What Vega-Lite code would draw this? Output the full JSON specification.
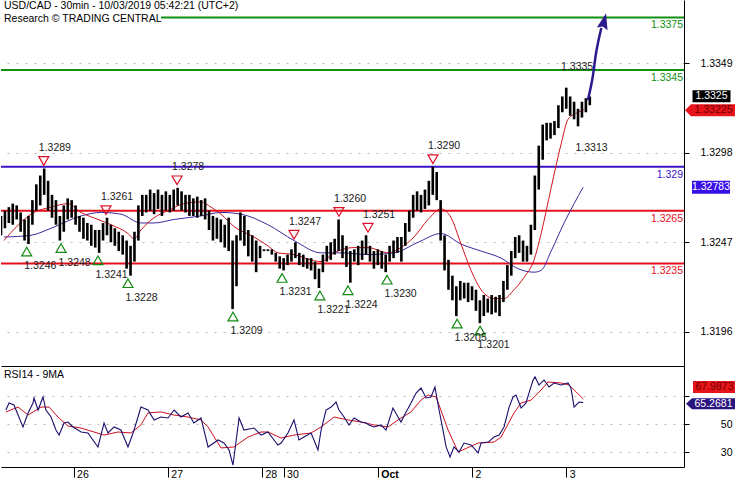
{
"$schema": "https://vega.github.io/schema/vega-lite/v6.json",
"padding": 0,
"spacing": 0,
"background": "white",
"config": {"view": {"stroke": null}, "font": "Liberation Sans", "text": {"font": "Liberation Sans", "fontSize": 10.5}, "axis": {"labelFont": "Liberation Sans"}},
"datasets": {
"levels": [
{"level": 1.3375, "role": "resistance", "from": 81.5},
{"level": 1.3345, "role": "resistance", "from": 0},
{"level": 1.329, "role": "pivot", "from": 0},
{"level": 1.3265, "role": "support", "from": 0},
{"level": 1.3235, "role": "support", "from": 0}
],
"bars": [
{"t":0,"h":1.3262,"l":1.3251},{"t":2,"h":1.3265,"l":1.3255},{"t":4,"h":1.3267,"l":1.3258},{"t":6,"h":1.3269,"l":1.3257},{"t":8,"h":1.3268,"l":1.3260},
{"t":10,"h":1.3264,"l":1.3253},{"t":12,"h":1.3260,"l":1.3248},{"t":14,"h":1.3262,"l":1.3246},{"t":16,"h":1.3271,"l":1.3257},{"t":18,"h":1.3280,"l":1.3265},
{"t":20,"h":1.3285,"l":1.3268},{"t":22,"h":1.3289,"l":1.3274},{"t":24,"h":1.3282,"l":1.3265},{"t":26,"h":1.3274,"l":1.3261},{"t":28,"h":1.3271,"l":1.3257},
{"t":30,"h":1.3262,"l":1.3248},{"t":32,"h":1.3268,"l":1.3253},{"t":34,"h":1.3272,"l":1.3260},{"t":36,"h":1.3271,"l":1.3261},{"t":38,"h":1.3268,"l":1.3257},
{"t":40,"h":1.3262,"l":1.3253},{"t":42,"h":1.3261,"l":1.3249},{"t":44,"h":1.3258,"l":1.3248},{"t":46,"h":1.3257,"l":1.3245},{"t":48,"h":1.3254,"l":1.3244},
{"t":50,"h":1.3254,"l":1.3241},{"t":52,"h":1.3258,"l":1.3248},{"t":54,"h":1.3261,"l":1.3251},{"t":56,"h":1.3257,"l":1.3247},{"t":58,"h":1.3255,"l":1.3245},
{"t":60,"h":1.3253,"l":1.3242},{"t":62,"h":1.3251,"l":1.3240},{"t":64,"h":1.3248,"l":1.3232},{"t":66,"h":1.3245,"l":1.3228},{"t":68,"h":1.3253,"l":1.3236},
{"t":70,"h":1.3268,"l":1.3248},{"t":72,"h":1.3274,"l":1.3262},{"t":74,"h":1.3274,"l":1.3264},{"t":76,"h":1.3277,"l":1.3265},{"t":78,"h":1.3275,"l":1.3263},
{"t":80,"h":1.3277,"l":1.3266},{"t":82,"h":1.3274,"l":1.3262},{"t":84,"h":1.3276,"l":1.3265},{"t":86,"h":1.3274,"l":1.3264},{"t":88,"h":1.3277,"l":1.3265},
{"t":90,"h":1.3278,"l":1.3268},{"t":92,"h":1.3276,"l":1.3265},{"t":94,"h":1.3274,"l":1.3264},{"t":96,"h":1.3274,"l":1.3262},{"t":98,"h":1.3272,"l":1.3262},
{"t":100,"h":1.3273,"l":1.3261},{"t":102,"h":1.3271,"l":1.3262},{"t":104,"h":1.3272,"l":1.3260},{"t":106,"h":1.3265,"l":1.3254},{"t":108,"h":1.3262,"l":1.3248},
{"t":110,"h":1.3261,"l":1.3249},{"t":112,"h":1.3260,"l":1.3247},{"t":114,"h":1.3257,"l":1.3244},{"t":116,"h":1.3261,"l":1.3242},{"t":118,"h":1.3248,"l":1.3209},
{"t":120,"h":1.3251,"l":1.3222},{"t":122,"h":1.3264,"l":1.3248},{"t":124,"h":1.3262,"l":1.3245},{"t":126,"h":1.3254,"l":1.3239},{"t":128,"h":1.3251,"l":1.3236},
{"t":130,"h":1.3248,"l":1.3230},{"t":132,"h":1.3245,"l":1.3238},{"t":134,"h":1.3243,"l":1.3242},{"t":136,"h":1.3243,"l":1.3242},{"t":138,"h":1.3243,"l":1.3240},
{"t":140,"h":1.3241,"l":1.3236},{"t":142,"h":1.3239,"l":1.3232},{"t":144,"h":1.3238,"l":1.3231},{"t":146,"h":1.3240,"l":1.3234},{"t":148,"h":1.3243,"l":1.3236},
{"t":150,"h":1.3247,"l":1.3238},{"t":152,"h":1.3241,"l":1.3234},{"t":154,"h":1.3240,"l":1.3233},{"t":156,"h":1.3238,"l":1.3232},{"t":158,"h":1.3238,"l":1.3231},
{"t":160,"h":1.3236,"l":1.3226},{"t":162,"h":1.3232,"l":1.3221},{"t":164,"h":1.3240,"l":1.3230},{"t":166,"h":1.3245,"l":1.3236},{"t":168,"h":1.3247,"l":1.3237},
{"t":170,"h":1.3249,"l":1.3240},{"t":172,"h":1.3260,"l":1.3242},{"t":174,"h":1.3251,"l":1.3238},{"t":176,"h":1.3245,"l":1.3233},{"t":178,"h":1.3242,"l":1.3224},
{"t":180,"h":1.3243,"l":1.3236},{"t":182,"h":1.3245,"l":1.3234},{"t":184,"h":1.3248,"l":1.3237},{"t":186,"h":1.3251,"l":1.3240},{"t":188,"h":1.3245,"l":1.3236},
{"t":190,"h":1.3242,"l":1.3232},{"t":192,"h":1.3243,"l":1.3234},{"t":194,"h":1.3242,"l":1.3232},{"t":196,"h":1.3240,"l":1.3230},{"t":198,"h":1.3245,"l":1.3236},
{"t":200,"h":1.3248,"l":1.3238},{"t":202,"h":1.3250,"l":1.3241},{"t":204,"h":1.3250,"l":1.3236},{"t":206,"h":1.3258,"l":1.3245},{"t":208,"h":1.3265,"l":1.3253},
{"t":210,"h":1.3274,"l":1.3261},{"t":212,"h":1.3276,"l":1.3265},{"t":214,"h":1.3274,"l":1.3264},{"t":216,"h":1.3277,"l":1.3266},{"t":218,"h":1.3282,"l":1.3268},
{"t":220,"h":1.3290,"l":1.3274},{"t":222,"h":1.3287,"l":1.3271},{"t":224,"h":1.3271,"l":1.3248},{"t":226,"h":1.3251,"l":1.3231},{"t":228,"h":1.3237,"l":1.3220},
{"t":230,"h":1.3228,"l":1.3214},{"t":232,"h":1.3222,"l":1.3205},{"t":234,"h":1.3225,"l":1.3214},{"t":236,"h":1.3224,"l":1.3215},{"t":238,"h":1.3224,"l":1.3213},
{"t":240,"h":1.3222,"l":1.3214},{"t":242,"h":1.3220,"l":1.3208},{"t":244,"h":1.3214,"l":1.3201},{"t":246,"h":1.3217,"l":1.3205},{"t":248,"h":1.3215,"l":1.3207},
{"t":250,"h":1.3217,"l":1.3206},{"t":252,"h":1.3216,"l":1.3207},{"t":254,"h":1.3217,"l":1.3205},{"t":256,"h":1.3225,"l":1.3213},{"t":258,"h":1.3234,"l":1.3220},
{"t":260,"h":1.3242,"l":1.3228},{"t":262,"h":1.3250,"l":1.3238},{"t":264,"h":1.3251,"l":1.3241},{"t":266,"h":1.3248,"l":1.3236},{"t":268,"h":1.3245,"l":1.3236},
{"t":270,"h":1.3257,"l":1.3240},{"t":272,"h":1.3285,"l":1.3254},{"t":274,"h":1.3302,"l":1.3277},{"t":276,"h":1.3314,"l":1.3294},{"t":278,"h":1.3315,"l":1.3305},
{"t":280,"h":1.3315,"l":1.3306},{"t":282,"h":1.3316,"l":1.3308},{"t":284,"h":1.3325,"l":1.3312},{"t":286,"h":1.3330,"l":1.3321},{"t":288,"h":1.3335,"l":1.3323},
{"t":290,"h":1.3330,"l":1.3319},{"t":292,"h":1.3327,"l":1.3317},{"t":294,"h":1.3323,"l":1.3313},{"t":296,"h":1.3327,"l":1.3318},{"t":298,"h":1.3329,"l":1.3321},
{"t":300,"h":1.3330,"l":1.3325}
],
"maFast": [
{"t":1.5,"p":1.3248},{"t":16.8,"p":1.3264},{"t":25.5,"p":1.3267},{"t":34.1,"p":1.3269},{"t":40.8,"p":1.3264},{"t":49.4,"p":1.3260},
{"t":56,"p":1.3257},{"t":64.7,"p":1.3252},{"t":67.8,"p":1.3249},{"t":71.3,"p":1.3254},{"t":78,"p":1.3261},{"t":85.1,"p":1.3265},
{"t":93.2,"p":1.3269},{"t":101.9,"p":1.3270},{"t":107,"p":1.3267},{"t":112.1,"p":1.3263},{"t":118.7,"p":1.3256},{"t":128.9,"p":1.3250},
{"t":136,"p":1.3245},{"t":141.1,"p":1.3241},{"t":149.3,"p":1.3240},{"t":158,"p":1.3237},{"t":163.1,"p":1.3236},{"t":169.7,"p":1.3241},
{"t":179.9,"p":1.3244},{"t":187,"p":1.3244},{"t":197.2,"p":1.3241},{"t":203.8,"p":1.3244},{"t":210.4,"p":1.3250},{"t":217.6,"p":1.3260},
{"t":224.2,"p":1.3266},{"t":229.3,"p":1.3261},{"t":234.4,"p":1.3246},{"t":239.5,"p":1.3231},{"t":244.6,"p":1.3220},{"t":251.2,"p":1.3215},
{"t":256.3,"p":1.3215},{"t":261.4,"p":1.3220},{"t":266.5,"p":1.3227},{"t":271.6,"p":1.3237},{"t":275.2,"p":1.3252},{"t":280.3,"p":1.3278},
{"t":285.4,"p":1.3303},{"t":288.9,"p":1.3317},{"t":294,"p":1.3321},{"t":297.1,"p":1.33225}
],
"maSlow": [
{"t":1.5,"p":1.3250},{"t":15.3,"p":1.3251},{"t":25.5,"p":1.3255},{"t":40.8,"p":1.3262},{"t":51,"p":1.3264},{"t":61.1,"p":1.3263},
{"t":71.3,"p":1.3258},{"t":78,"p":1.3258},{"t":88.2,"p":1.3260},{"t":101.9,"p":1.3262},{"t":112.1,"p":1.3264},{"t":122.3,"p":1.3263},
{"t":136,"p":1.3257},{"t":149.3,"p":1.3248},{"t":163.1,"p":1.3241},{"t":173.2,"p":1.3241},{"t":187,"p":1.3240},{"t":200.3,"p":1.3241},
{"t":212.5,"p":1.3247},{"t":224.2,"p":1.3252},{"t":234.4,"p":1.3246},{"t":244.6,"p":1.3242},{"t":254.8,"p":1.3238},{"t":263.4,"p":1.3232},
{"t":271.6,"p":1.3230},{"t":275.2,"p":1.3231},{"t":280.3,"p":1.3242},{"t":286.9,"p":1.3258},{"t":292,"p":1.3269},{"t":296.6,"p":1.32783}
],
"pivots": [
{"t":21.8,"p":1.3289,"type":"high","shown":true},{"t":53.5,"p":1.3261,"type":"high","shown":true},{"t":89.7,"p":1.3278,"type":"high","shown":true},
{"t":149.3,"p":1.3247,"type":"high","shown":true},{"t":172.2,"p":1.3260,"type":"high","shown":true},{"t":187.0,"p":1.3251,"type":"high","shown":true},
{"t":220.1,"p":1.3290,"type":"high","shown":true},{"t":287.9,"p":1.3335,"type":"high","shown":false},
{"t":13.1,"p":1.3246,"type":"low","shown":true},{"t":30.6,"p":1.3248,"type":"low","shown":true},{"t":49.4,"p":1.3241,"type":"low","shown":true},
{"t":64.7,"p":1.3228,"type":"low","shown":true},{"t":118.2,"p":1.3209,"type":"low","shown":true},{"t":143.2,"p":1.3231,"type":"low","shown":true},
{"t":162.5,"p":1.3221,"type":"low","shown":true},{"t":176.8,"p":1.3224,"type":"low","shown":true},{"t":196.7,"p":1.3230,"type":"low","shown":true},
{"t":232.4,"p":1.3205,"type":"low","shown":true},{"t":244.1,"p":1.3201,"type":"low","shown":true},{"t":294.0,"p":1.3313,"type":"low","shown":false}
],
"arrow": [
{"t":299.0,"p":1.33279},{"t":301.5,"p":1.33412},{"t":303.2,"p":1.33547},{"t":305.9,"p":1.33690}
],
"arrowHead": [{"t":307.3,"p":1.33729}],
"priceTags": [
{"kind":"close","value":1.3325,"label":"1.3325"},
{"kind":"fast","value":1.33225,"label":"1.33225"},
{"kind":"slow","value":1.32783,"label":"1.32783"}
],
"rsi": [
{"t":2.5,"v":60.0},{"t":4.1,"v":65.0},{"t":6.6,"v":63.6},{"t":8.7,"v":56.4},{"t":11.2,"v":47.9},{"t":13.8,"v":57.9},{"t":16.3,"v":65.0},
{"t":16.8,"v":68.6},{"t":18.9,"v":60.0},{"t":21.4,"v":69.3},{"t":22.9,"v":60.0},{"t":25.5,"v":55.0},{"t":28,"v":45.7},{"t":29.6,"v":42.1},
{"t":32.1,"v":50.7},{"t":34.1,"v":51.4},{"t":36.7,"v":47.9},{"t":40.8,"v":44.3},{"t":44.3,"v":43.6},{"t":49.4,"v":33.6},{"t":52.5,"v":50.7},
{"t":54.5,"v":43.6},{"t":57.6,"v":47.9},{"t":61.1,"v":45.7},{"t":64.7,"v":33.6},{"t":67.3,"v":43.6},{"t":69.8,"v":55.0},{"t":71.3,"v":62.1},
{"t":74.9,"v":60.0},{"t":78,"v":52.9},{"t":81.5,"v":55.0},{"t":85.1,"v":54.3},{"t":88.2,"v":60.0},{"t":91.7,"v":55.0},{"t":95.3,"v":57.9},
{"t":98.3,"v":50.7},{"t":101.9,"v":54.3},{"t":105.5,"v":33.6},{"t":110.6,"v":38.6},{"t":113.6,"v":36.4},{"t":116.2,"v":31.4},{"t":118.2,"v":20.7},
{"t":121.3,"v":54.3},{"t":123.8,"v":45.7},{"t":128.9,"v":47.1},{"t":132.5,"v":42.1},{"t":136,"v":44.3},{"t":139.1,"v":38.6},{"t":141.1,"v":35.0},
{"t":142.7,"v":36.4},{"t":146.2,"v":43.6},{"t":149.3,"v":52.9},{"t":151.8,"v":38.6},{"t":154.4,"v":40.7},{"t":158,"v":43.6},{"t":161.5,"v":31.4},
{"t":163.1,"v":45.7},{"t":165.6,"v":60.0},{"t":168.2,"v":62.1},{"t":170.7,"v":65.7},{"t":172.2,"v":60.0},{"t":174.8,"v":55.0},{"t":177.3,"v":49.3},
{"t":179.9,"v":54.3},{"t":183.4,"v":51.4},{"t":186,"v":50.7},{"t":187.5,"v":49.3},{"t":190.1,"v":47.9},{"t":193.6,"v":49.3},{"t":196.2,"v":45.7},
{"t":199.7,"v":61.4},{"t":202.3,"v":55.0},{"t":203.8,"v":51.4},{"t":206.4,"v":58.6},{"t":208.9,"v":65.0},{"t":211.5,"v":72.1},{"t":214,"v":75.7},
{"t":216.6,"v":68.6},{"t":219.1,"v":69.3},{"t":221.1,"v":76.4},{"t":223.2,"v":60.0},{"t":225.2,"v":45.7},{"t":226.8,"v":33.6},{"t":228.8,"v":26.4},
{"t":230.8,"v":33.6},{"t":233.4,"v":30.0},{"t":235.9,"v":36.4},{"t":239.5,"v":35.0},{"t":243.1,"v":29.3},{"t":244.6,"v":36.4},{"t":248.2,"v":37.1},
{"t":251.2,"v":40.7},{"t":253.8,"v":42.1},{"t":256.3,"v":47.9},{"t":258.9,"v":62.1},{"t":260.9,"v":69.3},{"t":262.4,"v":70.7},{"t":265,"v":61.4},
{"t":267.5,"v":65.0},{"t":269,"v":72.1},{"t":271.1,"v":81.4},{"t":272.1,"v":83.6},{"t":274.1,"v":77.9},{"t":276.7,"v":81.4},{"t":279.2,"v":76.4},
{"t":281.8,"v":79.3},{"t":285.4,"v":77.9},{"t":288.9,"v":79.3},{"t":290.4,"v":75.7},{"t":292,"v":62.1},{"t":294.5,"v":65.7},{"t":296.6,"v":65.3}
],
"rsiMa": [
{"t":2.5,"v":58.6},{"t":8.7,"v":62.1},{"t":13.8,"v":56.4},{"t":20.4,"v":62.1},{"t":24.5,"v":62.1},{"t":29,"v":55.0},{"t":34.1,"v":48.6},
{"t":40.8,"v":47.1},{"t":47.4,"v":44.3},{"t":52.5,"v":42.1},{"t":59.6,"v":44.3},{"t":66.2,"v":43.6},{"t":71.3,"v":49.3},{"t":74.9,"v":57.9},
{"t":81.5,"v":58.6},{"t":88.2,"v":56.4},{"t":95.3,"v":55.0},{"t":101.9,"v":52.9},{"t":105.5,"v":47.9},{"t":112.1,"v":32.9},{"t":118.7,"v":33.6},
{"t":125.9,"v":40.7},{"t":132.5,"v":44.3},{"t":136,"v":44.3},{"t":142.7,"v":40.0},{"t":149.3,"v":42.1},{"t":158,"v":43.6},{"t":163.1,"v":47.9},
{"t":169.7,"v":55.0},{"t":176.8,"v":52.9},{"t":183.4,"v":51.4},{"t":190.1,"v":49.3},{"t":197.2,"v":47.9},{"t":203.8,"v":54.3},{"t":208.9,"v":58.6},
{"t":214,"v":67.1},{"t":217.6,"v":70.7},{"t":221.7,"v":69.3},{"t":227.8,"v":45.7},{"t":232.9,"v":30.0},{"t":243.1,"v":36.4},{"t":251.2,"v":37.1},
{"t":254.8,"v":40.7},{"t":261.4,"v":57.9},{"t":265,"v":65.0},{"t":270.1,"v":67.1},{"t":275.2,"v":74.3},{"t":278.7,"v":80.0},{"t":285.4,"v":79.3},
{"t":289.4,"v":77.9},{"t":293,"v":72.9},{"t":296.6,"v":67.99}
],
"rsiTags": [
{"kind":"ma","value":67.9873,"label":"67.9873"},
{"kind":"rsi","value":65.2681,"label":"65.2681"}
],
"titles": [{"txt":"USD/CAD - 30min - 10/03/2019 05:42:21 (UTC+2)\nResearch © TRADING CENTRAL"}],
"rsiTitle": [{"txt":"RSI14 - 9MA"}]
},
"vconcat": [
{
"width": 683, "height": 366,
"layer": [
{"data":{"name":"levels"},"mark":{"type":"rule","strokeWidth":2},
 "encoding":{
  "x":{"field":"from","type":"quantitative","scale":{"domain":[0,348],"nice":false,"zero":false},"title":null,"axis":{"labels":false,"ticks":false,"grid":false,"domain":true,"domainColor":"#000","domainWidth":1}},
  "x2":{"value":"width"},
  "y":{"field":"level","type":"quantitative","scale":{"domain":[1.31766,1.33849],"nice":false,"zero":false},"title":null,
   "axis":{"orient":"right","values":[1.3196,1.3247,1.3298,1.3349],"format":".4f","tickSize":5,"tickColor":"#000","labelAlign":"right","labelPadding":43,"labelColor":"#000","labelFontSize":10.5,"domainColor":"#000","grid":true,"gridColor":"#b8b8b8","gridDash":[2,7]}},
  "color":{"field":"role","type":"nominal","scale":{"domain":["resistance","pivot","support"],"range":["#109010","#3c14c8","#e4101c"]},"legend":null}
 }},
{"data":{"name":"maSlow"},"mark":{"type":"line","color":"#3a2aa0","strokeWidth":1,"interpolate":"monotone"},
 "encoding":{"x":{"field":"t","type":"quantitative","scale":{"domain":[0,348],"nice":false,"zero":false},"title":null},
  "y":{"field":"p","type":"quantitative","scale":{"domain":[1.31766,1.33849],"nice":false,"zero":false},"title":null}}},
{"data":{"name":"maFast"},"mark":{"type":"line","color":"#d0141e","strokeWidth":1,"interpolate":"monotone"},
 "encoding":{"x":{"field":"t","type":"quantitative","scale":{"domain":[0,348],"nice":false,"zero":false},"title":null},
  "y":{"field":"p","type":"quantitative","scale":{"domain":[1.31766,1.33849],"nice":false,"zero":false},"title":null}}},
{"data":{"name":"bars"},"mark":{"type":"rule","color":"#000","strokeWidth":2.6,"clip":true},
 "encoding":{"x":{"field":"t","type":"quantitative","scale":{"domain":[0,348],"nice":false,"zero":false},"title":null},
  "y":{"field":"h","type":"quantitative","scale":{"domain":[1.31766,1.33849],"nice":false,"zero":false},"title":null},
  "y2":{"field":"l"}}},
{"data":{"name":"pivots"},"transform":[{"filter":"datum.type == 'high' && datum.shown"}],
 "mark":{"type":"point","shape":"triangle-down","size":100,"filled":false,"stroke":"#e0102a","strokeWidth":1.2,"opacity":1,"yOffset":-7.5},
 "encoding":{"x":{"field":"t","type":"quantitative","scale":{"domain":[0,348],"nice":false,"zero":false},"title":null},
  "y":{"field":"p","type":"quantitative","scale":{"domain":[1.31766,1.33849],"nice":false,"zero":false},"title":null}}},
{"data":{"name":"pivots"},"transform":[{"filter":"datum.type == 'low' && datum.shown"}],
 "mark":{"type":"point","shape":"triangle-up","size":100,"filled":false,"stroke":"#138a13","strokeWidth":1.2,"opacity":1,"yOffset":7.5},
 "encoding":{"x":{"field":"t","type":"quantitative","scale":{"domain":[0,348],"nice":false,"zero":false},"title":null},
  "y":{"field":"p","type":"quantitative","scale":{"domain":[1.31766,1.33849],"nice":false,"zero":false},"title":null}}},
{"data":{"name":"pivots"},"transform":[{"filter":"datum.type == 'high'"}],
 "mark":{"type":"text","align":"left","baseline":"middle","dx":-5,"dy":-20.5,"fontSize":10.5,"color":"#1a1a1a"},
 "encoding":{"x":{"field":"t","type":"quantitative","scale":{"domain":[0,348],"nice":false,"zero":false},"title":null},
  "y":{"field":"p","type":"quantitative","scale":{"domain":[1.31766,1.33849],"nice":false,"zero":false},"title":null},
  "text":{"field":"p","type":"quantitative","format":".4f"}}},
{"data":{"name":"pivots"},"transform":[{"filter":"datum.type == 'low'"}],
 "mark":{"type":"text","align":"left","baseline":"middle","dx":-2.5,"dy":22,"fontSize":10.5,"color":"#1a1a1a"},
 "encoding":{"x":{"field":"t","type":"quantitative","scale":{"domain":[0,348],"nice":false,"zero":false},"title":null},
  "y":{"field":"p","type":"quantitative","scale":{"domain":[1.31766,1.33849],"nice":false,"zero":false},"title":null},
  "text":{"field":"p","type":"quantitative","format":".4f"}}},
{"data":{"name":"arrow"},"mark":{"type":"line","color":"#2b1a8f","strokeWidth":2.5,"interpolate":"monotone"},
 "encoding":{"x":{"field":"t","type":"quantitative","scale":{"domain":[0,348],"nice":false,"zero":false},"title":null},
  "y":{"field":"p","type":"quantitative","scale":{"domain":[1.31766,1.33849],"nice":false,"zero":false},"title":null}}},
{"data":{"name":"arrowHead"},"mark":{"type":"point","shape":"M0,-1L0.69,1L0,0.7L-0.69,1Z","size":256,"filled":true,"color":"#2b1a8f","opacity":1,"angle":14},
 "encoding":{"x":{"field":"t","type":"quantitative","scale":{"domain":[0,348],"nice":false,"zero":false},"title":null},
  "y":{"field":"p","type":"quantitative","scale":{"domain":[1.31766,1.33849],"nice":false,"zero":false},"title":null}}},
{"data":{"name":"levels"},"mark":{"type":"text","align":"right","baseline":"middle","dx":-1,"dy":8,"fontSize":10.5},
 "encoding":{"x":{"value":"width"},
  "y":{"field":"level","type":"quantitative","scale":{"domain":[1.31766,1.33849],"nice":false,"zero":false},"title":null},
  "text":{"field":"level","type":"quantitative","format":".5~g"},
  "color":{"field":"role","type":"nominal","scale":{"domain":["resistance","pivot","support"],"range":["#109010","#3c14c8","#e4101c"]},"legend":null}}},
{"data":{"name":"priceTags"},"transform":[{"filter":"datum.kind == 'close'"}],
 "mark":{"type":"point","shape":"M-1,-0.316L1,-0.316L1,0.316L-1,0.316Z","size":1444,"filled":true,"color":"#000","opacity":1,"xOffset":27.5,"yOffset":-9},
 "encoding":{"x":{"value":"width"},"y":{"field":"value","type":"quantitative","scale":{"domain":[1.31766,1.33849],"nice":false,"zero":false},"title":null}}},
{"data":{"name":"priceTags"},"transform":[{"filter":"datum.kind == 'close'"}],
 "mark":{"type":"text","align":"center","baseline":"middle","dx":27.5,"dy":-9,"fontSize":10.5,"color":"#fff"},
 "encoding":{"x":{"value":"width"},"y":{"field":"value","type":"quantitative","scale":{"domain":[1.31766,1.33849],"nice":false,"zero":false},"title":null},"text":{"field":"label"}}},
{"data":{"name":"priceTags"},"transform":[{"filter":"datum.kind == 'fast'"}],
 "mark":{"type":"point","shape":"M-1,0L-0.765,-0.235L1,-0.235L1,0.235L-0.765,0.235Z","size":2601,"filled":true,"color":"#e8141c","opacity":1,"xOffset":26.5,"yOffset":0.5},
 "encoding":{"x":{"value":"width"},"y":{"field":"value","type":"quantitative","scale":{"domain":[1.31766,1.33849],"nice":false,"zero":false},"title":null}}},
{"data":{"name":"priceTags"},"transform":[{"filter":"datum.kind == 'fast'"}],
 "mark":{"type":"text","align":"center","baseline":"middle","dx":29.5,"dy":0.5,"fontSize":10.5,"color":"#700000"},
 "encoding":{"x":{"value":"width"},"y":{"field":"value","type":"quantitative","scale":{"domain":[1.31766,1.33849],"nice":false,"zero":false},"title":null},"text":{"field":"label"}}},
{"data":{"name":"priceTags"},"transform":[{"filter":"datum.kind == 'slow'"}],
 "mark":{"type":"point","shape":"M-1,-0.342L1,-0.342L1,0.342L-1,0.342Z","size":1444,"filled":true,"color":"#3a10e8","opacity":1,"xOffset":27},
 "encoding":{"x":{"value":"width"},"y":{"field":"value","type":"quantitative","scale":{"domain":[1.31766,1.33849],"nice":false,"zero":false},"title":null}}},
{"data":{"name":"priceTags"},"transform":[{"filter":"datum.kind == 'slow'"}],
 "mark":{"type":"text","align":"center","baseline":"middle","dx":27,"fontSize":10.5,"color":"#fff"},
 "encoding":{"x":{"value":"width"},"y":{"field":"value","type":"quantitative","scale":{"domain":[1.31766,1.33849],"nice":false,"zero":false},"title":null},"text":{"field":"label"}}},
{"data":{"name":"titles"},"mark":{"type":"text","align":"left","baseline":"top","lineBreak":"\n","lineHeight":13.3,"dx":3,"dy":1,"fontSize":10.5,"color":"#000"},
 "encoding":{"x":{"datum":0,"type":"quantitative","scale":{"domain":[0,348],"nice":false,"zero":false},"title":null},
  "y":{"datum":1.33849,"type":"quantitative","scale":{"domain":[1.31766,1.33849],"nice":false,"zero":false},"title":null},
  "text":{"field":"txt"}}}
]
},
{
"width": 683, "height": 101,
"layer": [
{"data":{"name":"rsiMa"},"mark":{"type":"line","color":"#cc1020","strokeWidth":1},
 "encoding":{
  "x":{"field":"t","type":"quantitative","scale":{"domain":[0,348],"nice":false,"zero":false},"title":null,
   "axis":{"values":[37,85,133,144,192,240,288],
    "labelExpr":"datum.value == 37 ? '26' : datum.value == 85 ? '27' : datum.value == 133 ? '28' : datum.value == 144 ? '30' : datum.value == 192 ? 'Oct' : datum.value == 240 ? '2' : '3'",
    "labelAlign":"left","labelBaseline":"top","labelOffset":3,"tickSize":10,"labelPadding":-8,"grid":false,"domainColor":"#000","tickColor":"#000","labelColor":"#000","labelFontSize":10.5,"labelOverlap":false,"labelFlush":false,
    "labelFontWeight":{"condition":{"test":"datum.value == 192","value":"bold"},"value":"normal"}}},
  "y":{"field":"v","type":"quantitative","scale":{"domain":[19.29,91.43],"nice":false,"zero":false},"title":null,
   "axis":{"orient":"right","values":[30,50,70],"labelExpr":"datum.value == 70 ? '' : datum.label","tickSize":5,"tickColor":"#000","labelAlign":"right","labelPadding":43,"labelColor":"#000","labelFontSize":10.5,"domainColor":"#000","grid":true,"gridColor":"#b8b8b8","gridDash":[2,7]}}
 }},
{"data":{"name":"rsi"},"mark":{"type":"line","color":"#1a0f6e","strokeWidth":1.1},
 "encoding":{"x":{"field":"t","type":"quantitative","scale":{"domain":[0,348],"nice":false,"zero":false},"title":null},
  "y":{"field":"v","type":"quantitative","scale":{"domain":[19.29,91.43],"nice":false,"zero":false},"title":null}}},
{"data":{"name":"rsiTags"},"transform":[{"filter":"datum.kind == 'ma'"}],
 "mark":{"type":"point","shape":"M-1,-0.279L1,-0.279L1,0.279L-1,0.279Z","size":1849,"filled":true,"color":"#e8141c","opacity":1,"xOffset":30.5,"yOffset":-11.8},
 "encoding":{"x":{"value":"width"},"y":{"field":"value","type":"quantitative","scale":{"domain":[19.29,91.43],"nice":false,"zero":false},"title":null}}},
{"data":{"name":"rsiTags"},"transform":[{"filter":"datum.kind == 'ma'"}],
 "mark":{"type":"text","align":"center","baseline":"middle","dx":30.5,"dy":-11.8,"fontSize":10.5,"color":"#700000"},
 "encoding":{"x":{"value":"width"},"y":{"field":"value","type":"quantitative","scale":{"domain":[19.29,91.43],"nice":false,"zero":false},"title":null},"text":{"field":"label"}}},
{"data":{"name":"rsiTags"},"transform":[{"filter":"datum.kind == 'rsi'"}],
 "mark":{"type":"point","shape":"M-1,0L-0.76,-0.22L1,-0.22L1,0.22L-0.76,0.22Z","size":2500,"filled":true,"color":"#2a1480","opacity":1,"xOffset":27,"yOffset":1},
 "encoding":{"x":{"value":"width"},"y":{"field":"value","type":"quantitative","scale":{"domain":[19.29,91.43],"nice":false,"zero":false},"title":null}}},
{"data":{"name":"rsiTags"},"transform":[{"filter":"datum.kind == 'rsi'"}],
 "mark":{"type":"text","align":"center","baseline":"middle","dx":29.5,"dy":1,"fontSize":10.5,"color":"#fff"},
 "encoding":{"x":{"value":"width"},"y":{"field":"value","type":"quantitative","scale":{"domain":[19.29,91.43],"nice":false,"zero":false},"title":null},"text":{"field":"label"}}},
{"data":{"name":"rsiTitle"},"mark":{"type":"text","align":"left","baseline":"top","dx":3,"dy":3.5,"fontSize":10.5,"color":"#000"},
 "encoding":{"x":{"datum":0,"type":"quantitative","scale":{"domain":[0,348],"nice":false,"zero":false},"title":null},
  "y":{"datum":91.43,"type":"quantitative","scale":{"domain":[19.29,91.43],"nice":false,"zero":false},"title":null},
  "text":{"field":"txt"}}}
]
}
]
}
